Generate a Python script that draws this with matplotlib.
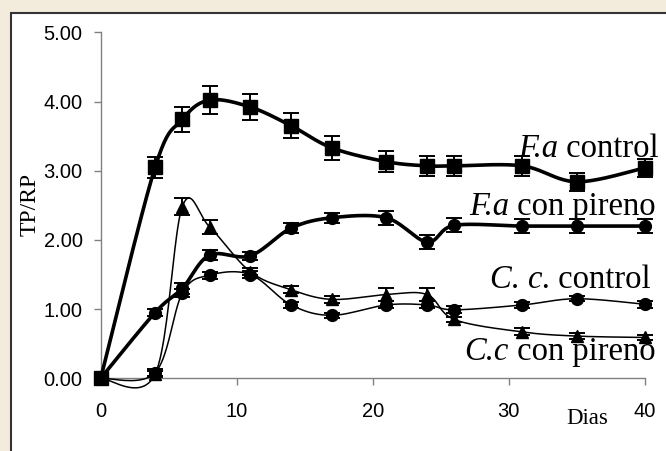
import numpy as np
import matplotlib
matplotlib.use("Agg")
import matplotlib.pyplot as plt
from matplotlib.patches import Rectangle

# ---- data ----
dias = [0, 4, 6, 8, 11, 14, 17, 21, 24, 26, 31, 35, 40]
fa_control = [0.0, 3.05, 3.74, 4.02, 3.92, 3.65, 3.33, 3.13, 3.07, 3.07, 3.07, 2.84, 3.04]
fa_control_err = [0, 0.15, 0.18, 0.2, 0.19, 0.18, 0.17, 0.15, 0.14, 0.14, 0.14, 0.13, 0.13]
fa_pireno = [0.0, 0.95, 1.30, 1.78, 1.77, 2.17, 2.32, 2.32, 1.97, 2.21, 2.20, 2.20, 2.20]
fa_pireno_err = [0, 0.05, 0.08, 0.07, 0.06, 0.07, 0.07, 0.1, 0.1, 0.1, 0.1, 0.1, 0.1]
cc_control = [0.0, 0.08, 1.23, 1.49, 1.50, 1.06, 0.91, 1.06, 1.06, 0.99, 1.06, 1.15, 1.07]
cc_control_err = [0, 0.05, 0.06, 0.05, 0.05, 0.04, 0.04, 0.05, 0.05, 0.05, 0.04, 0.04, 0.05]
cc_pireno = [0.0, 0.06, 2.48, 2.19, 1.54, 1.28, 1.14, 1.21, 1.21, 0.85, 0.67, 0.61, 0.59]
cc_pireno_err = [0, 0.04, 0.12, 0.1, 0.05, 0.05, 0.05, 0.1, 0.1, 0.04, 0.05, 0.04, 0.04]

yticks = [0, 1, 2, 3, 4, 5]
xticks = [0, 10, 20, 30, 40]

# (italic part, roman part, x, y)
labels = [
    ("F.a", " control", 41.05, 3.20),
    ("F.a", " con pireno", 40.8, 2.36),
    ("C. c.", " control", 40.45, 1.30),
    ("C.c", " con pireno", 40.8, 0.27),
]


def smooth(x, y, n=24):
    p = np.column_stack([x, y]).astype(float)
    out = []
    m = len(p)
    t = np.linspace(0, 1, n)[:, None]
    for i in range(m - 1):
        p0 = p[i - 1] if i > 0 else p[i]
        p1 = p[i]
        p2 = p[i + 1]
        p3 = p[i + 2] if i + 2 < m else p[i + 1]
        c1 = p1 + (p2 - p0) / 6.0
        c2 = p2 - (p3 - p1) / 6.0
        seg = ((1 - t) ** 3) * p1 + 3 * ((1 - t) ** 2) * t * c1 + 3 * (1 - t) * t ** 2 * c2 + t ** 3 * p2
        out.append(seg if i == 0 else seg[1:])
    s = np.vstack(out)
    return s[:, 0], s[:, 1]


fig = plt.figure(figsize=(6.66, 4.51), dpi=100)
fig.patch.set_facecolor('#f3ecdc')
fig.patches.append(Rectangle((11 / 666, -0.02), 1.0, 1 - 13 / 451 + 0.02, transform=fig.transFigure,
                             facecolor='white', edgecolor='#333333', lw=1.5, zorder=-10))

ax = fig.add_axes([100.7 / 666, 1 - 378.3 / 451, 544 / 666, 346 / 451])
ax.set_facecolor('none')
ax.set_xlim(0, 40)
ax.set_ylim(0, 5)

series = [
    (fa_control, fa_control_err, 's', 2.6, 9.5),
    (fa_pireno, fa_pireno_err, 'o', 2.6, 8.5),
    (cc_control, cc_control_err, 'o', 1.1, 8.5),
    (cc_pireno, cc_pireno_err, '^', 1.1, 9.0),
]
for vals, err, mk, lw, ms in series:
    sx, sy = smooth(dias, vals)
    ax.plot(sx, sy, color='black', lw=lw, clip_on=False, zorder=3)
    ax.plot(dias, vals, linestyle='none', marker=mk, ms=ms, color='black', clip_on=False, zorder=4)
    ex = [d for d, e in zip(dias, err) if e > 0]
    ey = [v for v, e in zip(vals, err) if e > 0]
    ee = [e for e in err if e > 0]
    ax.errorbar(ex, ey, yerr=ee, fmt='none', ecolor='black', elinewidth=1.4, capsize=5.5,
                capthick=1.4, clip_on=False, zorder=4)

for sp in ['top', 'right']:
    ax.spines[sp].set_visible(False)
for sp in ['left', 'bottom']:
    ax.spines[sp].set_color('#808080')
    ax.spines[sp].set_linewidth(1.0)

ax.set_yticks(yticks)
ax.set_yticklabels([f"{v:.2f}" for v in yticks], fontfamily='Liberation Sans', fontsize=14.5)
ax.set_xticks(xticks)
ax.set_xticklabels([str(v) for v in xticks], fontfamily='Liberation Sans', fontsize=14.5)
ax.tick_params(axis='y', direction='out', length=5, width=1, color='#808080', pad=8)
ax.tick_params(axis='x', direction='out', length=5, width=1, color='#808080', pad=12)

fig.text(30 / 666, 1 - 204 / 451, 'TP/RP', rotation=90, ha='center', va='center',
         fontfamily='Liberation Serif', fontsize=17)

fig.canvas.draw()
renderer = fig.canvas.get_renderer()
for it, rm, x, y in labels:
    t = ax.text(x, y, rm, fontsize=23.5, ha='right', va='baseline', fontfamily='Liberation Serif',
                clip_on=False, zorder=5)
    w = t.get_window_extent(renderer).width * 72.0 / fig.dpi
    ax.annotate(it, xy=(x, y), xycoords='data', xytext=(-w, 0), textcoords='offset points',
                fontsize=23.5, ha='right', va='baseline', fontfamily='Liberation Serif',
                fontstyle='italic', annotation_clip=False, zorder=5)

ax.text(34.2, -0.66, 'Dias', fontsize=16.5, ha='left', va='baseline', fontfamily='Liberation Serif',
        clip_on=False)

fig.savefig('out.png', dpi=100, facecolor=fig.get_facecolor())
